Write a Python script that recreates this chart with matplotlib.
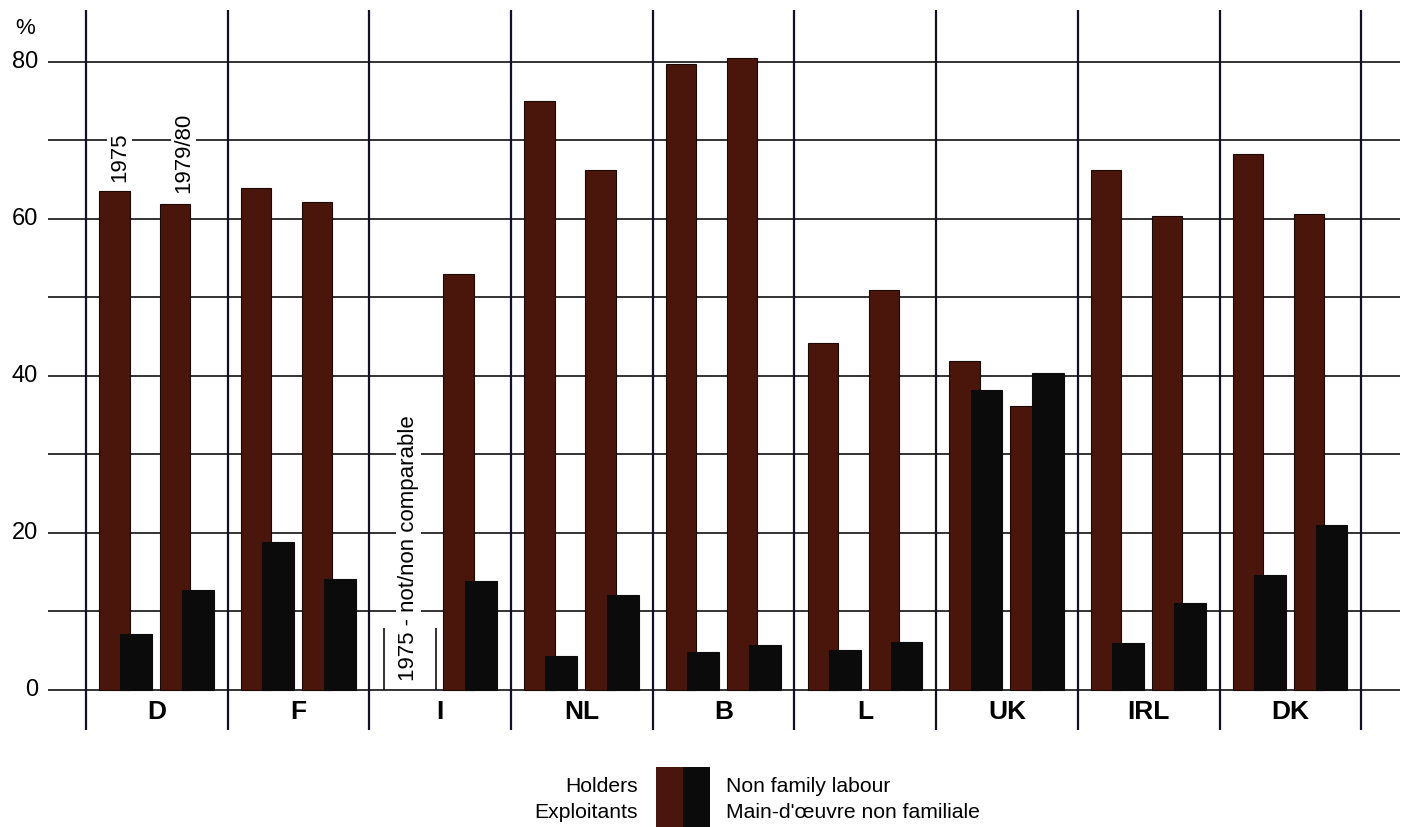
import numpy as np
import matplotlib.pyplot as plt
from matplotlib.patches import Rectangle

plt.rcParams['font.family'] = ['Liberation Sans', 'DejaVu Sans']

# data (% of labour force)
countries = ["D", "F", "I", "NL", "B", "L", "UK", "IRL", "DK"]
holders_1975 = [63.6, 63.9, np.nan, 75.0, 79.7, 44.2, 41.9, 66.2, 68.2]
nonfam_1975 = [7.1, 18.9, np.nan, 4.3, 4.8, 5.1, 38.2, 6.0, 14.6]
holders_1980 = [61.9, 62.2, 53.0, 66.2, 80.5, 51.0, 36.2, 60.4, 60.6]
nonfam_1980 = [12.7, 14.1, 13.9, 12.1, 5.7, 6.1, 40.4, 11.1, 21.0]
yticks = [0, 20, 40, 60, 80]

brown = "#4a160b"
black = "#0b0b0b"

fig = plt.figure(figsize=(14.18, 8.27), dpi=100)
ax = fig.add_axes([48 / 1418, 97 / 827, 1352 / 1418, 720 / 827])

x = np.arange(len(countries))
ylo, yhi = -5.1, 86.6
ax.set_xlim(-0.768, 8.773)
ax.set_ylim(ylo, yhi)

# grid lines and group separators
ax.hlines(np.arange(0, 81, 10), -0.768, 8.773, color="#111111", lw=1.2, zorder=1)
ax.vlines(np.arange(-0.5, len(countries)), ylo, yhi, color="#10102a", lw=1.6, zorder=1)

# bars
ax.bar(x - 0.30, holders_1975, 0.215, color=brown, edgecolor="#1a0805", lw=0.8, zorder=2)
ax.bar(x - 0.145, nonfam_1975, 0.225, color=black, edgecolor=black, lw=0.8, zorder=3)
ax.bar(x + 0.13, holders_1980, 0.215, color=brown, edgecolor="#1a0805", lw=0.8, zorder=2)
ax.bar(x + 0.29, nonfam_1980, 0.225, color=black, edgecolor=black, lw=0.8, zorder=3)

# year labels above D
box = dict(facecolor="white", edgecolor="none", pad=1.5)
ax.text(x[0] - 0.26, holders_1975[0] + 1.1, "1975", rotation=90, ha="center", va="bottom",
        fontsize=16, bbox=box, zorder=4)
ax.text(x[0] + 0.19, holders_1980[0] + 1.4, "1979/80", rotation=90, ha="center", va="bottom",
        fontsize=16, bbox=box, zorder=4)

# Italy 1975 not comparable
ax.vlines([x[2] - 0.395, x[2] - 0.03], 0, 7.9, color="#111111", lw=1.2, zorder=2)
ax.text(x[2] - 0.226, 1.2, "1975 - not/non comparable", rotation=90, ha="center", va="bottom",
        fontsize=16, bbox=box, zorder=4)

# country labels
for xi, c in zip(x, countries):
    ax.text(xi, -2.8, c, ha="center", va="center", fontsize=19, fontweight="bold")

# y labels
for v in yticks:
    ax.text(-0.84, v, str(v), ha="right", va="center", fontsize=17)
fig.text(25 / 1418, 1 - 28 / 827, "%", ha="center", va="center", fontsize=16)

for s in ax.spines.values():
    s.set_visible(False)
ax.set_xticks([])
ax.set_yticks([])

# legend
fig.patches.append(Rectangle((656 / 1418, 0), 27 / 1418, 60 / 827, transform=fig.transFigure,
                             facecolor=brown, edgecolor="none"))
fig.patches.append(Rectangle((683 / 1418, 0), 27 / 1418, 60 / 827, transform=fig.transFigure,
                             facecolor=black, edgecolor="none"))
fig.text(638 / 1418, 1 - 787 / 827, "Holders", ha="right", va="center", fontsize=15.2)
fig.text(638 / 1418, 1 - 812 / 827, "Exploitants", ha="right", va="center", fontsize=15.2)
fig.text(726 / 1418, 1 - 787 / 827, "Non family labour", ha="left", va="center", fontsize=15.2)
fig.text(726 / 1418, 1 - 812 / 827, "Main-d'œuvre non familiale", ha="left", va="center", fontsize=15.2)

fig.savefig("out.png", dpi=100, facecolor="white")
